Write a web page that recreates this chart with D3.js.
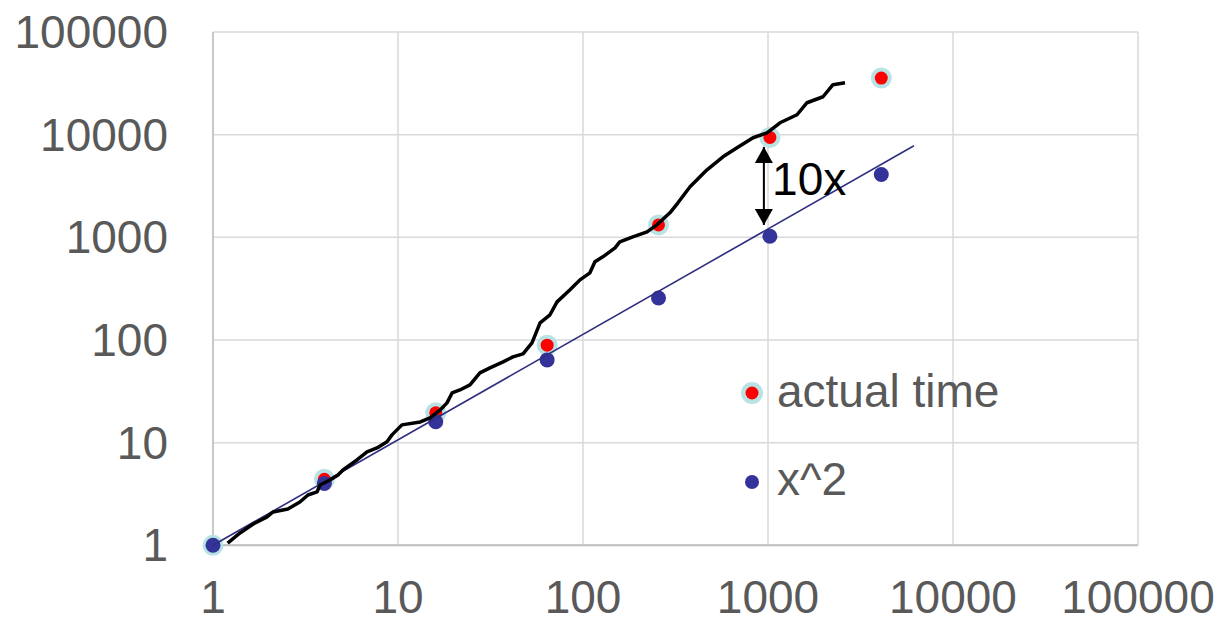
<!DOCTYPE html>
<html>
<head>
<meta charset="utf-8">
<script src="https://cdn.jsdelivr.net/npm/d3@7"></script>
<style>
  body { margin: 0; background: #fff; }
  text { font-family: "Liberation Sans", Arial, sans-serif; }
</style>
</head>
<body>
<svg id="chart" width="1222" height="620"></svg>
<script>
// sizes of the problem and measured times
var sizes = [1, 4, 16, 64, 256, 1024, 4096];
var actualTime = [1, 4.4, 19.5, 89, 1320, 9400, 35600];
var xSquared = [1, 4, 16, 64, 256, 1024, 4096];

// fitted straight line
var trendX = [1, 6150];
var trendY = [1, 7800];

// black measured curve
var curveX = [1.2, 1.4, 1.65, 1.96, 2.11, 2.54, 2.95, 3.26, 3.65, 3.79, 4.29, 4.74, 5.04, 5.5, 6.0,
  6.8, 7.7, 8.72, 9.28, 10.5, 13.2, 14.9, 16.9, 18.4, 19.6, 21.6, 24.5, 27.7, 31.4, 37.0, 41.8,
  47.4, 53.0, 58.6, 66.3, 72.4, 85.1, 96.3, 109, 116, 128, 149, 158, 186, 222, 251, 295, 326,
  379, 468, 571, 680, 830, 988, 1161, 1435, 1625, 1983, 2245, 2608];
var curveY = [1.05, 1.32, 1.61, 1.89, 2.11, 2.26, 2.64, 3.09, 3.31, 3.87, 4.33, 4.84, 5.42, 6.06, 6.78,
  8.12, 8.88, 10.2, 11.9, 14.9, 15.9, 17.4, 20.8, 24.4, 30.5, 32.6, 36.5, 47.8, 53.5, 61.2, 68.4,
  73.2, 93.7, 147, 176, 235, 308, 385, 451, 577, 646, 790, 904, 1011, 1131, 1324, 1733, 2168,
  3106, 4550, 6090, 7450, 9330, 10400, 13060, 15630, 20460, 23400, 30640, 32050];

var ticks = [1, 10, 100, 1000, 10000, 100000];
var legendNames = ["actual time", "x^2"];

var svg = d3.select("#chart");
var plotLeft = 213, plotRight = 1138, plotTop = 32, plotBottom = 545.3;

var x = d3.scaleLog().domain([1, 100000]).range([plotLeft, plotRight]);
var y = d3.scaleLog().domain([1, 100000]).range([plotBottom, plotTop]);
var fmt = d3.format("d");

// grid
svg.append("g")
  .selectAll("line")
  .data(ticks)
  .enter().append("line")
    .attr("x1", function(d) { return x(d); })
    .attr("x2", function(d) { return x(d); })
    .attr("y1", plotTop).attr("y2", plotBottom)
    .attr("stroke", "#d9d9d9").attr("stroke-width", 1.5);
svg.append("g")
  .selectAll("line")
  .data(ticks)
  .enter().append("line")
    .attr("y1", function(d) { return y(d); })
    .attr("y2", function(d) { return y(d); })
    .attr("x1", plotLeft).attr("x2", plotRight)
    .attr("stroke", "#d9d9d9").attr("stroke-width", 1.5);

// axis lines
svg.append("line").attr("x1", plotLeft).attr("x2", plotRight).attr("y1", plotBottom).attr("y2", plotBottom)
  .attr("stroke", "#bfbfbf").attr("stroke-width", 2);
svg.append("line").attr("x1", plotLeft).attr("x2", plotLeft).attr("y1", plotTop).attr("y2", plotBottom)
  .attr("stroke", "#bfbfbf").attr("stroke-width", 1.5);

// tick labels
svg.append("g")
  .selectAll("text")
  .data(ticks)
  .enter().append("text")
    .attr("x", 168)
    .attr("y", function(d) { return y(d) + 16; })
    .attr("text-anchor", "end")
    .attr("font-size", "46px")
    .attr("fill", "#595959")
    .text(fmt);
svg.append("g")
  .selectAll("text")
  .data(ticks)
  .enter().append("text")
    .attr("x", function(d) { return x(d); })
    .attr("y", 613)
    .attr("text-anchor", "middle")
    .attr("font-size", "46px")
    .attr("fill", "#595959")
    .text(fmt);

// actual time points
var red = svg.append("g")
  .selectAll("g")
  .data(sizes.map(function(s, i) { return [s, actualTime[i]]; }))
  .enter().append("g");
red.append("circle")
  .attr("cx", function(d) { return x(d[0]); })
  .attr("cy", function(d) { return y(d[1]); })
  .attr("r", 10.5)
  .attr("fill", "#b9e2e4");
red.append("circle")
  .attr("cx", function(d) { return x(d[0]); })
  .attr("cy", function(d) { return y(d[1]); })
  .attr("r", 6.5)
  .attr("fill", "#ff0000");

// x^2 points
svg.append("g")
  .selectAll("circle")
  .data(sizes.map(function(s, i) { return [s, xSquared[i]]; }))
  .enter().append("circle")
    .attr("cx", function(d) { return x(d[0]); })
    .attr("cy", function(d) { return y(d[1]); })
    .attr("r", 7.5)
    .attr("fill", "#333399");

var line = d3.line()
  .x(function(d) { return x(d[0]); })
  .y(function(d) { return y(d[1]); });

svg.append("path")
  .datum(trendX.map(function(v, i) { return [v, trendY[i]]; }))
  .attr("d", line)
  .attr("fill", "none")
  .attr("stroke", "#2e2e80")
  .attr("stroke-width", 1.6);

svg.append("path")
  .datum(curveX.map(function(v, i) { return [v, curveY[i]]; }))
  .attr("d", line)
  .attr("fill", "none")
  .attr("stroke", "#000")
  .attr("stroke-width", 3.5)
  .attr("stroke-linejoin", "round");

// 10x arrow
svg.append("defs").append("marker")
    .attr("id", "head")
    .attr("viewBox", "0 0 10 10")
    .attr("refX", 10).attr("refY", 5)
    .attr("markerWidth", 16).attr("markerHeight", 18)
    .attr("markerUnits", "userSpaceOnUse")
    .attr("orient", "auto-start-reverse")
    .attr("preserveAspectRatio", "none")
  .append("path")
    .attr("d", "M0,0L10,5L0,10Z")
    .attr("fill", "#000");

var ax = x(950);
svg.append("line")
  .attr("x1", ax).attr("x2", ax)
  .attr("y1", y(7600)).attr("y2", y(1320))
  .attr("stroke", "#000").attr("stroke-width", 2)
  .attr("marker-start", "url(#head)")
  .attr("marker-end", "url(#head)");

svg.append("text")
  .attr("x", x(1052))
  .attr("y", y(2580))
  .attr("font-size", "46px")
  .attr("fill", "#000")
  .text("10x");

// legend
var lg = svg.append("g");
lg.append("circle").attr("cx", 752).attr("cy", 393).attr("r", 11).attr("fill", "#b9e2e4");
lg.append("circle").attr("cx", 752).attr("cy", 393).attr("r", 6.5).attr("fill", "#ff0000");
lg.append("circle").attr("cx", 752).attr("cy", 482).attr("r", 7).attr("fill", "#333399");
lg.selectAll("text")
  .data(legendNames)
  .enter().append("text")
    .attr("x", 777)
    .attr("y", function(d, i) { return 407 + i * 88; })
    .attr("font-size", "46px")
    .attr("fill", "#595959")
    .text(function(d) { return d; });
</script>
</body>
</html>
